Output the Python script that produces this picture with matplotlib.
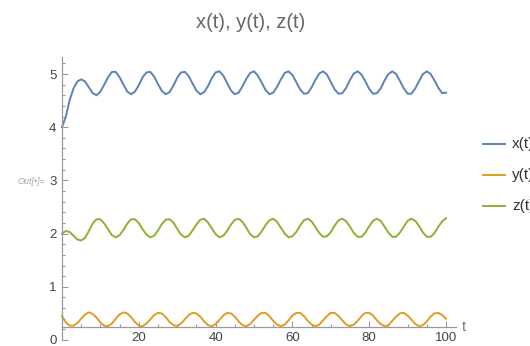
import matplotlib
matplotlib.use("Agg")
import matplotlib.pyplot as plt
from matplotlib.lines import Line2D

# values at t = 0, 1, ..., 100
t = list(range(101))

x_vals = [4.00, 4.20, 4.51, 4.73, 4.86, 4.90, 4.86, 4.75, 4.64, 4.60,
          4.67, 4.80, 4.94, 5.04, 5.04, 4.94, 4.80, 4.67, 4.62, 4.67,
          4.79, 4.94, 5.03, 5.04, 4.95, 4.81, 4.68, 4.62, 4.66, 4.78,
          4.93, 5.03, 5.04, 4.96, 4.82, 4.69, 4.62, 4.66, 4.77, 4.92,
          5.03, 5.05, 4.97, 4.83, 4.69, 4.62, 4.65, 4.77, 4.91, 5.02,
          5.05, 4.97, 4.84, 4.70, 4.62, 4.65, 4.76, 4.90, 5.02, 5.05,
          4.98, 4.85, 4.71, 4.63, 4.64, 4.75, 4.89, 5.01, 5.05, 4.99,
          4.85, 4.71, 4.63, 4.64, 4.74, 4.89, 5.01, 5.05, 4.99, 4.86,
          4.72, 4.63, 4.64, 4.73, 4.88, 5.00, 5.05, 5.00, 4.87, 4.73,
          4.63, 4.63, 4.73, 4.87, 5.00, 5.05, 5.00, 4.88, 4.74, 4.64,
          4.65]

y_vals = [0.45, 0.33, 0.27, 0.27, 0.32, 0.40, 0.48, 0.52, 0.49, 0.42,
          0.33, 0.27, 0.26, 0.31, 0.40, 0.48, 0.52, 0.50, 0.43, 0.34,
          0.27, 0.26, 0.31, 0.39, 0.47, 0.51, 0.50, 0.43, 0.34, 0.28,
          0.26, 0.31, 0.39, 0.47, 0.51, 0.50, 0.44, 0.35, 0.28, 0.26,
          0.30, 0.38, 0.46, 0.51, 0.50, 0.44, 0.35, 0.28, 0.26, 0.30,
          0.38, 0.46, 0.51, 0.51, 0.45, 0.36, 0.29, 0.26, 0.29, 0.37,
          0.46, 0.51, 0.51, 0.45, 0.36, 0.29, 0.26, 0.29, 0.37, 0.45,
          0.51, 0.51, 0.45, 0.37, 0.29, 0.26, 0.29, 0.36, 0.45, 0.51,
          0.51, 0.46, 0.37, 0.30, 0.26, 0.28, 0.36, 0.44, 0.50, 0.51,
          0.46, 0.38, 0.30, 0.26, 0.28, 0.35, 0.44, 0.50, 0.51, 0.47,
          0.40]

z_vals = [2.00, 2.05, 2.03, 1.96, 1.89, 1.87, 1.92, 2.05, 2.19, 2.27,
          2.27, 2.19, 2.08, 1.97, 1.93, 1.97, 2.07, 2.19, 2.27, 2.27,
          2.20, 2.08, 1.98, 1.93, 1.96, 2.06, 2.18, 2.26, 2.27, 2.21,
          2.09, 1.98, 1.93, 1.96, 2.06, 2.17, 2.26, 2.28, 2.21, 2.10,
          1.99, 1.93, 1.96, 2.05, 2.17, 2.26, 2.28, 2.22, 2.11, 1.99,
          1.93, 1.95, 2.04, 2.16, 2.25, 2.28, 2.22, 2.11, 2.00, 1.93,
          1.95, 2.03, 2.15, 2.25, 2.28, 2.23, 2.12, 2.01, 1.94, 1.95,
          2.03, 2.15, 2.25, 2.28, 2.23, 2.13, 2.01, 1.94, 1.94, 2.02,
          2.14, 2.24, 2.28, 2.24, 2.13, 2.02, 1.94, 1.94, 2.02, 2.13,
          2.24, 2.28, 2.24, 2.14, 2.02, 1.94, 1.94, 2.01, 2.13, 2.23,
          2.29]

labels = ["x(t)", "y(t)", "z(t)"]
colors = ["#5e81b5", "#e19c24", "#8fb032"]
x_ticks = [20, 40, 60, 80, 100]
y_ticks = [0, 1, 2, 3, 4, 5]

plt.rcParams['font.family'] = ['Liberation Sans', 'DejaVu Sans']

fig = plt.figure(figsize=(5.3, 3.46), dpi=100)
ax = fig.add_axes([62/530, 6/346, 394/530, 283/346])

for vals, c in zip([x_vals, y_vals, z_vals], colors):
    ax.plot(t, vals, color=c, lw=1.4, clip_on=False)

ax.set_xlim(0, 102.6)
ax.set_ylim(0, 5.32)

axis_gray = "#9a9a9a"
for s in ["top", "right"]:
    ax.spines[s].set_visible(False)
ax.spines["bottom"].set_position(("data", 0.25))
ax.spines["bottom"].set_color(axis_gray)
ax.spines["left"].set_color(axis_gray)
ax.spines["bottom"].set_linewidth(0.9)
ax.spines["left"].set_linewidth(0.9)

ax.set_xticks(x_ticks)
ax.set_xticks(range(5, 101, 5), minor=True)
ax.set_yticks(y_ticks)
ax.set_yticks([i * 0.2 for i in range(27)], minor=True)
ax.tick_params(which="both", direction="in", color=axis_gray, width=0.8,
               labelsize=9.5, labelcolor="#444444")
ax.tick_params(which="major", length=4, pad=4)
ax.tick_params(which="minor", length=2.2)

ax.text(104, 0.25, "t", ha="left", va="center", fontsize=10.5, color="#777777")

fig.text(251/530, 1 - 23/346, "x(t), y(t), z(t)", ha="center", va="center",
         fontsize=14.5, color="#666666")

fig.text(45/530, 1 - 181/346, "Out[\u2022]=", ha="right", va="center",
         fontsize=6.5, style="italic", color="#a8a8a8")

# legend at the right edge, cut off by the edge as in the original
for i, (lab, c) in enumerate(zip(labels, colors)):
    yy = 1 - (144.3 + 30.7 * i) / 346
    fig.add_artist(Line2D([483/530, 505/530], [yy, yy], color=c, lw=1.4,
                          transform=fig.transFigure))
    fig.text(512/530, yy, lab, ha="left", va="center", fontsize=11,
             color="#333333")

fig.savefig("out.png", dpi=100)
